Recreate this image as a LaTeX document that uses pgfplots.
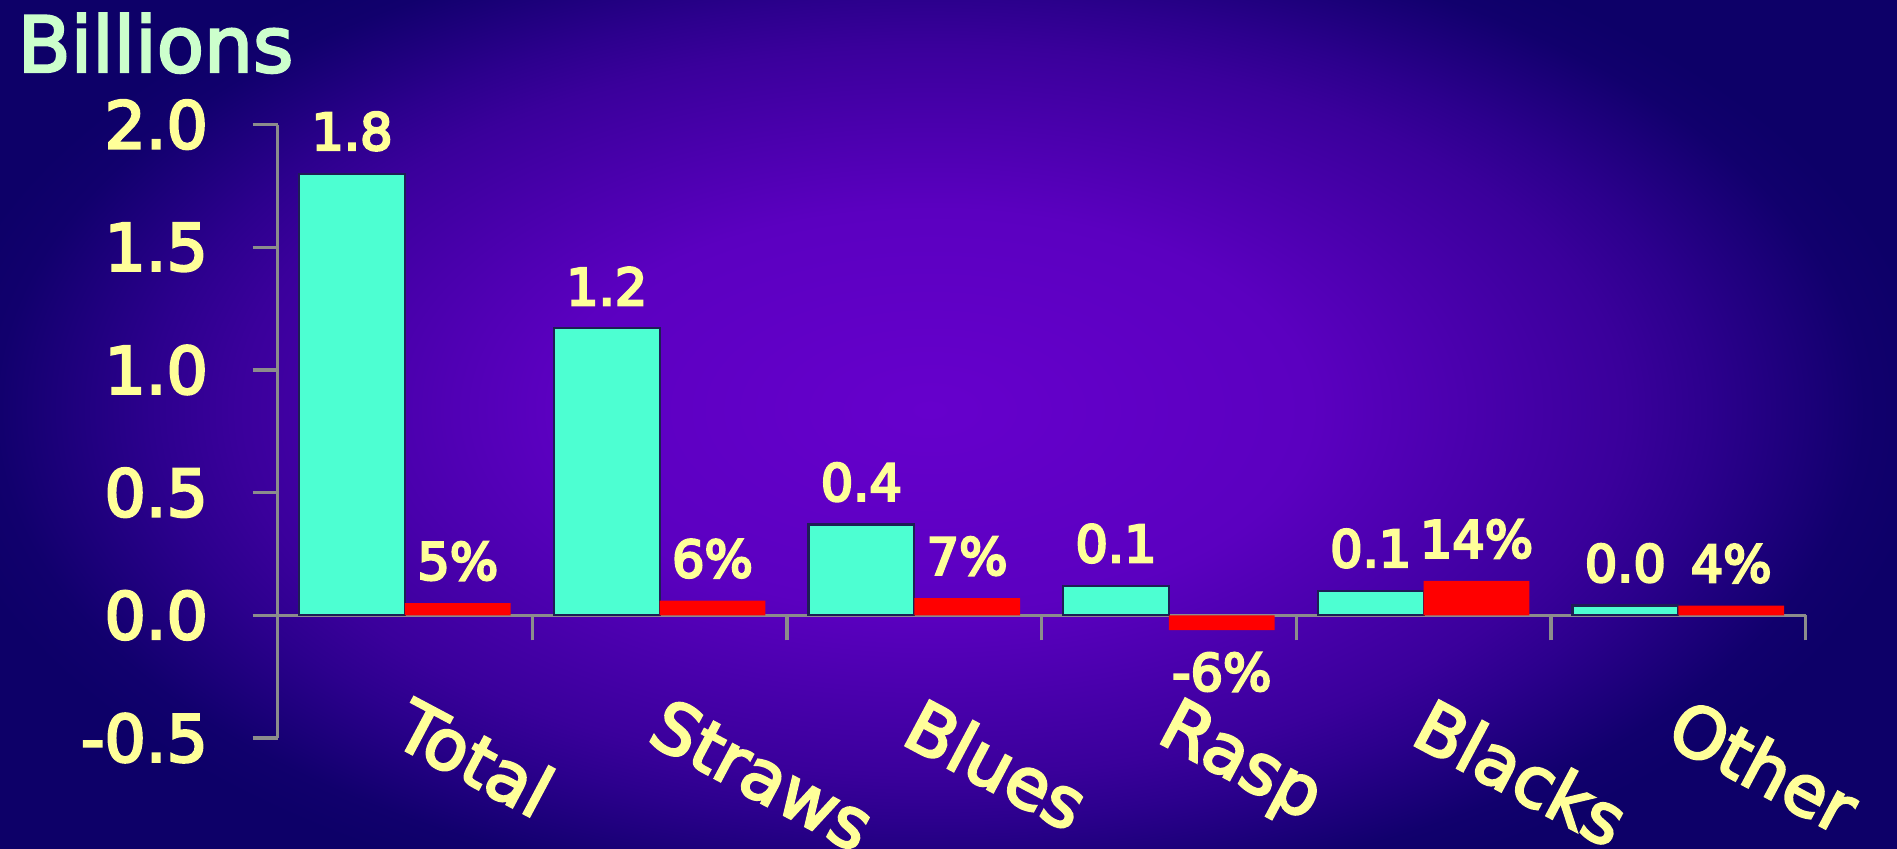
\documentclass[border=0pt]{standalone}
\usepackage{pgfplots}
\pgfplotsset{compat=1.18}
\usepackage{pgfplotstable}
\usepackage{fontspec}
\setmainfont{DejaVu Sans}

\definecolor{lblyellow}{HTML}{FFFF99}
\definecolor{lblgreen}{HTML}{CCFFCC}
\definecolor{barcyan}{HTML}{4DFFD2}
\definecolor{barred}{HTML}{FF0000}
\definecolor{axisgray}{HTML}{8C8C8C}
\definecolor{baredge}{HTML}{1E1E55}
\definecolor{bgC}{HTML}{6600CC}
\definecolor{bgA}{HTML}{5B00C0}
\definecolor{bgB}{HTML}{3A009B}
\definecolor{bgD}{HTML}{2C008D}
\definecolor{bgF}{HTML}{11006D}
\definecolor{bgE}{HTML}{0D0068}

% radii are given for a 50bp square fitted to the shaded rectangle
\pgfdeclareradialshading{bgshade}{\pgfpoint{0bp}{0bp}}{%
  color(0bp)=(bgC); color(8.35bp)=(bgA); color(15.2bp)=(bgB);
  color(17.1bp)=(bgD); color(20.5bp)=(bgF); color(22bp)=(bgE); color(50bp)=(bgE)}

% heavier glyphs: fill and stroke the text outlines
\newcommand\heavy{\special{pdf:literal direct 2 Tr 0.7 w}}
\newcommand\tickfont{\fontsize{18.5}{20}\selectfont\heavy}
\newcommand\barfont{\fontsize{14.5}{16}\selectfont\heavy}
\newcommand\catfont{\fontsize{20}{22}\selectfont\heavy}

% value in billions
\pgfplotstableread{
x value
0 1.80
1 1.17
2 0.37
3 0.12
4 0.10
5 0.04
}\valuedata

% growth: share on the axis, percent for the label
\pgfplotstableread{
x share pct
0 0.05 5
1 0.06 6
2 0.07 7
3 -0.06 -6
4 0.14 14
5 0.04 4
}\growthdata

\begin{document}
\begin{tikzpicture}
\useasboundingbox (0,0) rectangle (18.97cm,8.49cm);
\begin{scope}
  \clip (0,0) rectangle (18.97cm,8.49cm);
  \shade[shading=bgshade] (-2.1cm,-1.61cm) rectangle (20.7cm,10.39cm);
\end{scope}

\node[anchor=base west, inner sep=0pt, text=lblgreen,
      font=\fontsize{22}{26}\selectfont\heavy] at (0.17cm,7.77cm) {Billions};

\begin{axis}[
  at={(2.776cm,1.11cm)}, anchor=south west,
  scale only axis, width=15.28cm, height=6.134cm,
  xmin=-0.5, xmax=5.5, ymin=-0.5, ymax=2.0,
  axis x line*=middle, axis y line*=left,
  axis line style={draw=axisgray, line width=0.9pt, -},
  tick align=outside, major tick length=0.25cm,
  tick style={draw=axisgray, line width=0.9pt},
  xtick={-0.5,0.5,...,5.5}, xticklabels={},
  extra x ticks={0,1,2,3,4,5},
  extra x tick labels={Total,Straws,Blues,Rasp,Blacks,Other},
  extra x tick style={major tick length=0pt,
    tick style={draw=none},
    xticklabel style={xshift=0.1cm, yshift=-0.79cm, rotate=-28,
      anchor=north west, inner sep=0pt, font=\catfont, text=lblyellow}},
  ytick={-0.5,0,0.5,1,1.5,2},
  yticklabel style={anchor=east, inner sep=0pt, xshift=-0.44cm,
    font=\tickfont, text=lblyellow,
    /pgf/number format/.cd, fixed, fixed zerofill, precision=1,
    assume math mode=true},
  ybar=0pt, bar width=1.058cm,
  clip=false,
  every node near coord/.append style={font=\barfont, text=lblyellow,
    inner xsep=0pt, inner ysep=0.22cm},
  /pgf/number format/assume math mode=true,
]
\addplot[fill=barcyan, draw=baredge, line width=0.6pt,
  nodes near coords={\pgfmathprintnumber[fixed,fixed zerofill,precision=1]{\pgfplotspointmeta}},
  point meta=y]
  table[x=x, y=value] {\valuedata};
\addplot[fill=barred, draw=none,
  nodes near coords={\pgfmathprintnumber[fixed,precision=0]{\pgfplotspointmeta}\%},
  point meta=explicit]
  table[x=x, y=share, meta=pct] {\growthdata};
\end{axis}
\end{tikzpicture}
\end{document}
